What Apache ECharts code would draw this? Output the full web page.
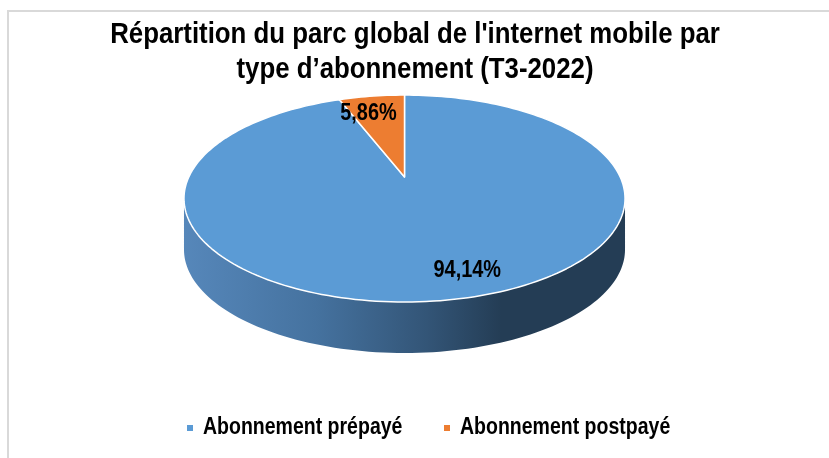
<!DOCTYPE html>
<html>
<head>
<meta charset="utf-8">
<script src="https://cdn.jsdelivr.net/npm/echarts@6/dist/echarts.min.js"></script>
<style>
  html, body { margin: 0; padding: 0; background: #fff; }
  #chart { width: 829px; height: 458px; }
</style>
</head>
<body>
<div id="chart"></div>
<script>
// parc internet mobile, T3-2022 (parts en %)
var categories = ["Abonnement prépayé", "Abonnement postpayé"],
    values = [94.14, 5.86],
    labels = ["94,14%", "5,86%"],
    colors = ["#5b9bd5", "#ed7d31"],
    titleLines = ["Répartition du parc global de l'internet mobile par", "type d’abonnement (T3-2022)"];

// pas de police etroite installee: on compresse Liberation Sans
var FONT = "'Liberation Sans', Arial, sans-serif";

// geometrie du camembert 3D (pixels)
var CX = 404.5, CY = 177, SU = 215.7, SV = 99, P = 0.208, DEPTH = 51;
// position des etiquettes: [rayon, angle en degres]
var labelAt = [[0.823, -72.8], [0.765, 104.6]];

var total = values.reduce(function (a, b) { return a + b; }, 0);

function proj(x, y) {
    var w = 1 + P * y;
    return [CX + SU * x / w, CY - SV * y / w];
}

function arcPoints(a0, a1, dy) {
    var pts = [], n = Math.max(2, Math.ceil(Math.abs(a1 - a0) / 1.5));
    for (var i = 0; i <= n; i++) {
        var a = (a0 + (a1 - a0) * i / n) * Math.PI / 180,
            p = proj(Math.cos(a), Math.sin(a));
        pts.push([p[0], p[1] + (dy || 0)]);
    }
    return pts;
}

function narrowText(x, y, text, size, align, squeeze) {
    return {
        type: 'text',
        x: x, y: y,
        scaleX: squeeze || 0.83,
        z2: 10,
        style: {
            x: 0, y: 0, text: text, fill: '#000',
            font: 'bold ' + size + 'px ' + FONT,
            align: align || 'center', verticalAlign: 'middle'
        }
    };
}

function sliceItem(idx) {
    return function (params, api) {
        var before = 0;
        for (var i = 0; i < idx; i++) before += values[i];
        var v = api.value(0),
            a0 = 90 - 360 * before / total,
            a1 = a0 - 360 * v / total,
            pts = [proj(0, 0)].concat(arcPoints(a0, a1));
        var la = labelAt[idx][1] * Math.PI / 180,
            lp = proj(labelAt[idx][0] * Math.cos(la), labelAt[idx][0] * Math.sin(la));
        return {
            type: 'group',
            children: [{
                type: 'polygon',
                shape: {points: pts},
                style: {fill: colors[idx], stroke: '#fff', lineWidth: 1.5, lineJoin: 'round'}
            }, narrowText(lp[0], lp[1], labels[idx], 24)]
        };
    };
}

function wallItem(params, api) {
    var s = Math.asin(P) * 180 / Math.PI,
        top = arcPoints(180 + s, 360 - s),
        bottom = arcPoints(360 - s, 180 + s, DEPTH);
    return {
        type: 'polygon',
        shape: {points: top.concat(bottom)},
        style: {
            fill: new echarts.graphic.LinearGradient(0, 0, 1, 0, [
                {offset: 0, color: '#5687ba'},
                {offset: 0.3, color: '#45729f'},
                {offset: 0.55, color: '#335577'},
                {offset: 0.72, color: '#243d55'},
                {offset: 1, color: '#243d55'}
            ])
        }
    };
}

var series = [{
    name: 'wall',
    type: 'custom',
    coordinateSystem: 'none',
    silent: true,
    data: [[total]],
    renderItem: wallItem
}];
categories.forEach(function (c, i) {
    series.push({
        name: c,
        type: 'custom',
        coordinateSystem: 'none',
        itemStyle: {color: colors[i]},
        data: [[values[i]]],
        renderItem: sliceItem(i)
    });
});

// legende dessinee a la main pour pouvoir compresser le texte
var legendX = [187, 444], legendY = 428, graphics = [{
    type: 'polyline',
    silent: true,
    shape: {points: [[8, 458], [8, 11], [829, 11]]},
    style: {stroke: '#d9d9d9', lineWidth: 2, fill: null}
}];
categories.forEach(function (c, i) {
    graphics.push({
        type: 'rect',
        shape: {x: legendX[i], y: legendY - 3, width: 6, height: 6},
        style: {fill: colors[i]}
    });
    graphics.push(narrowText(legendX[i] + 16, legendY, c, 23.5, 'left'));
});
titleLines.forEach(function (t, i) {
    graphics.push(narrowText(415, 35 + i * 35, t, 30, 'center', 0.86));
});

var chart = echarts.init(document.getElementById('chart'), null, {renderer: 'canvas'});
chart.setOption({
    animation: false,
    backgroundColor: '#fff',
    graphic: graphics,
    series: series
});
</script>
</body>
</html>
